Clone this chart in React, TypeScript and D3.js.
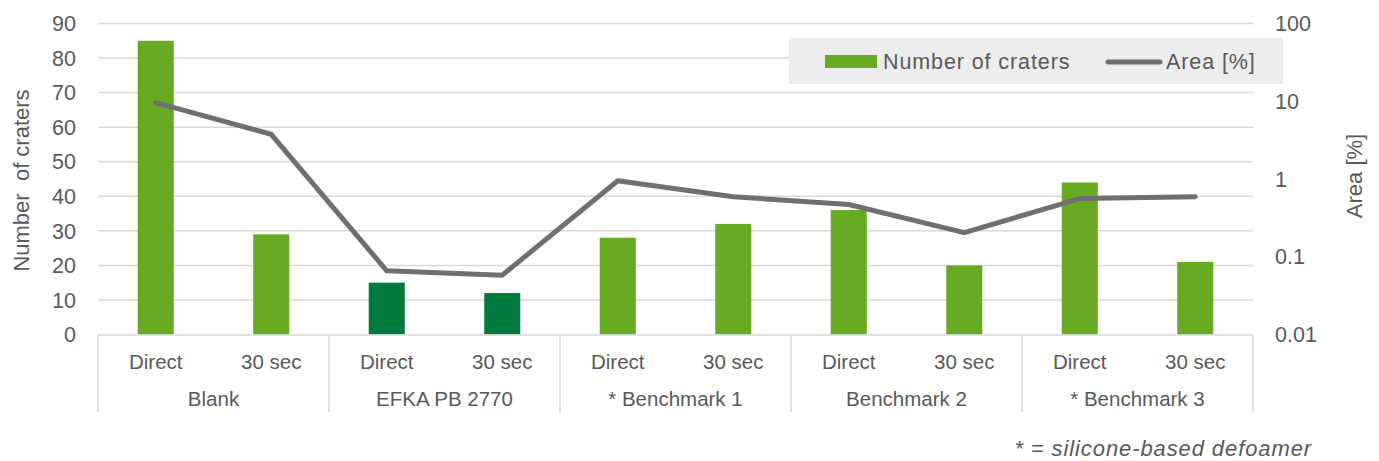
import { useEffect, useRef } from "react";
import * as d3 from "d3";

const groups = ["Blank", "EFKA PB 2770", "* Benchmark 1", "Benchmark 2", "* Benchmark 3"];
const timings = ["Direct", "30 sec"];
const craters = [85, 29, 15, 12, 28, 32, 36, 20, 44, 21];
const area = [9.6, 3.76, 0.066, 0.058, 0.95, 0.59, 0.47, 0.204, 0.56, 0.59];
const leftTicks = [0, 10, 20, 30, 40, 50, 60, 70, 80, 90];
const rightTicks = [0.01, 0.1, 1, 10, 100];
const rightTickLabels = ["0.01", "0.1", "1", "10", "100"];

const W = 1379;
const H = 461;
const FONT = "'Liberation Sans', Arial, sans-serif";
const TEXT = "#595959";
const GRID = "#d9d9d9";
const GREEN = "#66ab22";
const DARK_GREEN = "#007a3d";
const LINE = "#6f6f6f";

export default function App() {
  const ref = useRef<SVGSVGElement>(null);

  useEffect(() => {
    if (!ref.current) return;
    const svg = d3.select(ref.current);
    svg.selectAll("*").remove();

    const left = 98;
    const right = 1253;
    const top = 23.5;
    const bottom = 334.5;

    const keys = groups.flatMap((g, gi) => timings.map((t) => `${gi}|${t}`));
    const x = d3
      .scaleBand()
      .domain(keys)
      .range([left, right])
      .paddingInner(0.688)
      .paddingOuter(0.344);
    const groupX = d3.scaleBand().domain(groups).range([left, right]);

    const y = d3.scaleLinear().domain([0, 90]).range([bottom, top]);
    const yLog = d3.scaleLog().domain([0.01, 100]).range([bottom, top]);

    const rows = keys.map((k, i) => ({
      key: k,
      group: Math.floor(i / 2),
      label: timings[i % 2],
      craters: craters[i],
      area: area[i],
    }));

    // gridlines
    svg
      .append("g")
      .selectAll("line")
      .data(leftTicks.slice(1))
      .enter()
      .append("line")
      .attr("x1", left)
      .attr("x2", right)
      .attr("y1", (d) => y(d))
      .attr("y2", (d) => y(d))
      .attr("stroke", GRID)
      .attr("stroke-width", 1.5);

    // bars
    svg
      .append("g")
      .selectAll("rect")
      .data(rows)
      .enter()
      .append("rect")
      .attr("x", (d) => x(d.key) ?? 0)
      .attr("y", (d) => y(d.craters))
      .attr("width", x.bandwidth())
      .attr("height", (d) => y(0) - y(d.craters))
      .attr("fill", (d) => (d.group === 1 ? DARK_GREEN : GREEN));

    // category axis
    const axis = svg.append("g");
    axis
      .append("line")
      .attr("x1", left)
      .attr("x2", right)
      .attr("y1", bottom + 0.5)
      .attr("y2", bottom + 0.5)
      .attr("stroke", GRID)
      .attr("stroke-width", 1.5);
    axis
      .selectAll("line.sep")
      .data(d3.range(groups.length + 1))
      .enter()
      .append("line")
      .attr("class", "sep")
      .attr("x1", (i) => left + i * groupX.step())
      .attr("x2", (i) => left + i * groupX.step())
      .attr("y1", bottom)
      .attr("y2", 412)
      .attr("stroke", GRID)
      .attr("stroke-width", 1.5);
    axis
      .selectAll("text.sub")
      .data(rows)
      .enter()
      .append("text")
      .attr("class", "sub")
      .attr("x", (d) => (x(d.key) ?? 0) + x.bandwidth() / 2)
      .attr("y", 369)
      .attr("text-anchor", "middle")
      .attr("font-size", 20.5)
      .attr("fill", TEXT)
      .text((d) => d.label);
    axis
      .selectAll("text.grp")
      .data(groups)
      .enter()
      .append("text")
      .attr("class", "grp")
      .attr("x", (d) => (groupX(d) ?? 0) + groupX.bandwidth() / 2)
      .attr("y", 406)
      .attr("text-anchor", "middle")
      .attr("font-size", 20.5)
      .attr("fill", TEXT)
      .text((d) => d);

    // left axis labels
    svg
      .append("g")
      .selectAll("text")
      .data(leftTicks)
      .enter()
      .append("text")
      .attr("x", 76)
      .attr("y", (d) => y(d))
      .attr("dy", "0.36em")
      .attr("text-anchor", "end")
      .attr("font-size", 21.5)
      .attr("fill", TEXT)
      .text((d) => d);

    // right axis labels
    svg
      .append("g")
      .selectAll("text")
      .data(rightTicks)
      .enter()
      .append("text")
      .attr("x", 1275)
      .attr("y", (d) => yLog(d))
      .attr("dy", "0.36em")
      .attr("font-size", 21.5)
      .attr("fill", TEXT)
      .text((d, i) => rightTickLabels[i]);

    // axis titles
    svg
      .append("text")
      .attr("transform", `translate(29,${(83 + 278) / 2}) rotate(-90)`)
      .attr("text-anchor", "middle")
      .attr("font-size", 22)
      .attr("fill", TEXT)
      .style("white-space", "pre")
      .text("Number  of craters");
    svg
      .append("text")
      .attr("transform", `translate(1362,176) rotate(-90)`)
      .attr("text-anchor", "middle")
      .attr("font-size", 22)
      .attr("fill", TEXT)
      .text("Area [%]");

    // area line
    const line = d3
      .line<(typeof rows)[number]>()
      .x((d) => (x(d.key) ?? 0) + x.bandwidth() / 2)
      .y((d) => yLog(d.area));
    svg
      .append("path")
      .datum(rows)
      .attr("d", line)
      .attr("fill", "none")
      .attr("stroke", LINE)
      .attr("stroke-width", 5)
      .attr("stroke-linecap", "round")
      .attr("stroke-linejoin", "round");

    // legend
    const lg = svg.append("g");
    lg.append("rect")
      .attr("x", 789)
      .attr("y", 38)
      .attr("width", 494)
      .attr("height", 46)
      .attr("fill", "#ededed");
    lg.append("rect")
      .attr("x", 825)
      .attr("y", 55)
      .attr("width", 52)
      .attr("height", 13)
      .attr("fill", GREEN);
    lg.append("text")
      .attr("x", 883)
      .attr("y", 69)
      .attr("font-size", 21.5)
      .attr("letter-spacing", 0.9)
      .attr("fill", TEXT)
      .text("Number of craters");
    lg.append("line")
      .attr("x1", 1108)
      .attr("x2", 1160)
      .attr("y1", 62)
      .attr("y2", 62)
      .attr("stroke", LINE)
      .attr("stroke-width", 5)
      .attr("stroke-linecap", "round");
    lg.append("text")
      .attr("x", 1166)
      .attr("y", 69)
      .attr("font-size", 21.5)
      .attr("letter-spacing", 0.9)
      .attr("fill", TEXT)
      .text("Area [%]");

    // footnote
    svg
      .append("text")
      .attr("x", 1312)
      .attr("y", 456)
      .attr("text-anchor", "end")
      .attr("font-size", 22)
      .attr("letter-spacing", 0.9)
      .attr("font-style", "italic")
      .attr("fill", TEXT)
      .style("white-space", "pre")
      .text("* = silicone-based defoamer");
  }, []);

  return (
    <svg
      ref={ref}
      width={W}
      height={H}
      style={{ position: "absolute", left: 0, top: 0, background: "#fff", fontFamily: FONT }}
    />
  );
}
